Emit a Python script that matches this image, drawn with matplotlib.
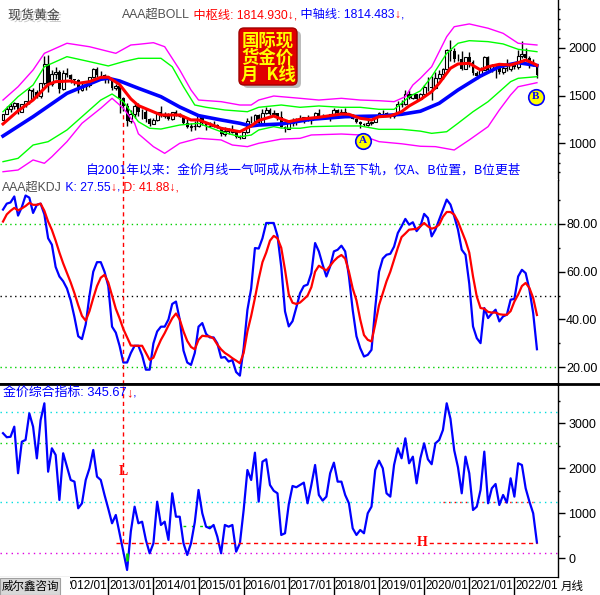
import matplotlib
matplotlib.use('Agg')
import matplotlib.pyplot as plt
import matplotlib.transforms as mtransforms
import matplotlib.patheffects as pe
from matplotlib.patches import FancyBboxPatch, Rectangle
from matplotlib.lines import Line2D
from matplotlib.ticker import MultipleLocator
import numpy as np

plt.rcParams['font.family'] = ['Liberation Sans', 'Noto Sans CJK SC']

# ---- monthly gold candles, 2010/09 .. 2022/07 ----
first_open = 1247
closes = [1307, 1357, 1386, 1421,
          1333, 1410, 1439, 1556, 1536, 1500, 1628, 1826, 1624, 1722, 1746, 1565,
          1740, 1711, 1669, 1664, 1561, 1604, 1614, 1692, 1773, 1719, 1711, 1675,
          1663, 1579, 1595, 1472, 1393, 1234, 1312, 1395, 1327, 1323, 1253, 1202,
          1240, 1326, 1284, 1296, 1250, 1327, 1282, 1287, 1210, 1171, 1182, 1184,
          1283, 1212, 1183, 1183, 1190, 1172, 1095, 1134, 1115, 1142, 1065, 1061,
          1118, 1238, 1233, 1293, 1215, 1322, 1351, 1309, 1316, 1277, 1173, 1146,
          1211, 1249, 1249, 1268, 1268, 1242, 1269, 1322, 1280, 1271, 1275, 1303,
          1345, 1318, 1325, 1316, 1299, 1253, 1224, 1202, 1192, 1215, 1222, 1282,
          1321, 1313, 1292, 1284, 1305, 1409, 1413, 1520, 1472, 1513, 1464, 1517,
          1589, 1585, 1577, 1687, 1730, 1781, 1975, 1967, 1886, 1879, 1776, 1898,
          1847, 1734, 1708, 1769, 1907, 1770, 1814, 1813, 1743, 1783, 1774, 1829,
          1796, 1909, 1937, 1897, 1838, 1807, 1710]
highs = [1310, 1388, 1424, 1431,
         1424, 1411, 1447, 1576, 1577, 1560, 1632, 1913, 1920, 1764, 1803, 1764,
         1764, 1791, 1720, 1677, 1668, 1641, 1630, 1695, 1787, 1796, 1755, 1723,
         1694, 1684, 1617, 1606, 1487, 1424, 1348, 1433, 1424, 1361, 1361, 1267,
         1270, 1332, 1392, 1331, 1315, 1332, 1345, 1322, 1292, 1256, 1208, 1238,
         1307, 1284, 1225, 1224, 1232, 1205, 1175, 1170, 1157, 1191, 1142, 1088,
         1124, 1263, 1287, 1304, 1303, 1362, 1375, 1367, 1352, 1317, 1337, 1180,
         1220, 1264, 1262, 1295, 1273, 1296, 1270, 1331, 1357, 1306, 1299, 1307,
         1366, 1361, 1356, 1365, 1316, 1308, 1266, 1237, 1214, 1243, 1237, 1284,
         1326, 1347, 1325, 1303, 1306, 1439, 1453, 1555, 1557, 1517, 1516, 1523,
         1611, 1689, 1704, 1747, 1765, 1789, 1984, 2075, 1992, 1933, 1965, 1906,
         1959, 1872, 1755, 1798, 1913, 1916, 1832, 1834, 1834, 1814, 1877, 1831,
         1853, 1974, 2070, 1998, 1910, 1879, 1814]
lows = [1242, 1305, 1330, 1360,
        1309, 1324, 1383, 1416, 1462, 1478, 1478, 1605, 1535, 1603, 1671, 1523,
        1562, 1689, 1627, 1614, 1527, 1547, 1555, 1587, 1688, 1692, 1672, 1635,
        1626, 1555, 1562, 1321, 1338, 1180, 1208, 1270, 1291, 1251, 1221, 1182,
        1202, 1239, 1277, 1268, 1240, 1240, 1281, 1273, 1206, 1160, 1131, 1142,
        1167, 1191, 1142, 1175, 1170, 1162, 1077, 1077, 1099, 1106, 1052, 1046,
        1060, 1107, 1208, 1208, 1200, 1199, 1310, 1301, 1302, 1241, 1171, 1123,
        1146, 1180, 1194, 1241, 1214, 1236, 1205, 1267, 1271, 1260, 1264, 1236,
        1302, 1307, 1303, 1302, 1282, 1251, 1211, 1160, 1180, 1183, 1196, 1221,
        1276, 1311, 1281, 1266, 1266, 1301, 1382, 1400, 1459, 1459, 1445, 1459,
        1517, 1548, 1451, 1567, 1670, 1671, 1757, 1863, 1849, 1860, 1764, 1776,
        1803, 1717, 1677, 1705, 1765, 1751, 1751, 1688, 1721, 1721, 1759, 1753,
        1780, 1781, 1890, 1872, 1787, 1805, 1681]

# ---- BOLL lines (month index, value) ----
red_m = [0, 4, 8, 12, 14, 18, 20, 23, 26, 28, 31, 34, 36, 42, 47, 50, 52, 58, 63, 66, 68, 72, 74, 76,
         79, 84, 90, 92, 95, 98, 100, 103, 106, 108, 111, 114, 116, 119, 121, 124, 127, 129, 132, 135,
         137, 139, 141, 142]
red_v = [1203, 1340, 1453, 1615, 1645, 1652, 1628, 1645, 1690, 1692, 1615, 1465, 1395, 1297, 1297, 1245,
         1245, 1158, 1122, 1182, 1240, 1286, 1255, 1227, 1252, 1273, 1307, 1304, 1262, 1245, 1279, 1286,
         1331, 1391, 1458, 1540, 1628, 1785, 1830, 1837, 1767, 1801, 1826, 1819, 1843, 1871, 1837, 1815]
blue_m = [0, 8, 17, 26, 28, 31, 36, 42, 47, 52, 58, 63, 66, 68, 74, 82, 91, 100, 106, 111, 116, 121,
          127, 132, 137, 142]
blue_v = [1077, 1279, 1523, 1670, 1680, 1652, 1576, 1488, 1380, 1290, 1245, 1210, 1182, 1192, 1203, 1252,
          1279, 1286, 1304, 1336, 1419, 1558, 1704, 1801, 1843, 1814]
mag_up_m = [0, 4, 8, 11, 17, 23, 30, 34, 36, 40, 43, 47, 50, 52, 58, 63, 66, 68, 72, 74, 79, 84, 90, 95,
            100, 104, 107, 109, 111, 114, 118, 120, 124, 129, 133, 137, 142]
mag_up_v = [1453, 1592, 1767, 1941, 2046, 2010, 1941, 2028, 2035, 2052, 2010, 1767, 1558, 1453, 1436, 1401,
            1401, 1453, 1495, 1488, 1471, 1453, 1471, 1453, 1446, 1436, 1488, 1610, 1680, 1801, 2115, 2219,
            2248, 2203, 2150, 2046, 2028]
grn_up_m = [0, 4, 8, 11, 17, 23, 28, 32, 36, 42, 45, 48, 51, 54, 59, 65, 68, 74, 79, 84, 90, 95, 100,
            104, 106, 108, 111, 114, 118, 121, 124, 129, 133, 137, 142]
grn_up_v = [1331, 1488, 1610, 1801, 1906, 1854, 1809, 1854, 1889, 1889, 1801, 1592, 1401, 1377, 1349, 1331,
            1377, 1401, 1377, 1391, 1377, 1377, 1356, 1356, 1419, 1488, 1549, 1697, 1941, 2046, 2073, 2063,
            2039, 1983, 1958]
grn_lo_m = [0, 4, 8, 12, 17, 21, 26, 29, 32, 35, 36, 39, 42, 47, 52, 58, 63, 66, 68, 72, 74, 79, 82, 90,
            95, 100, 106, 111, 114, 118, 121, 125, 129, 132, 135, 137, 142]
grn_lo_v = [809, 844, 983, 1018, 1140, 1279, 1453, 1516, 1436, 1279, 1227, 1158, 1150, 1192, 1210, 1122,
            1070, 1087, 1140, 1175, 1160, 1158, 1175, 1182, 1182, 1147, 1147, 1128, 1105, 1122, 1210, 1331,
            1436, 1540, 1645, 1680, 1697]
mag_lo_m = [0, 4, 8, 11, 13, 17, 21, 26, 29, 32, 35, 36, 40, 43, 47, 52, 58, 61, 65, 68, 74, 79, 82, 90,
            95, 100, 106, 111, 115, 120, 124, 129, 132, 135, 137, 142]
mag_lo_v = [704, 722, 827, 792, 861, 1018, 1210, 1367, 1471, 1367, 1210, 1100, 966, 896, 1001, 1053, 1036,
            983, 966, 1001, 1045, 1053, 1088, 1098, 1088, 1018, 996, 970, 966, 931, 1036, 1175, 1349, 1506,
            1592, 1634]

# ---- KDJ ----
k_vals = [86, 88.5, 89, 91.5, 83.5, 87, 91.9, 91, 84.6, 88,
          88.5, 84, 74, 71.3, 62, 58, 56, 53, 48, 41,
          33, 31.8, 38, 50, 60, 64, 64, 60, 54, 37,
          34.5, 29, 22, 22, 26, 29, 29, 25, 19, 19,
          30, 35, 37, 37, 40, 46.5, 47.5, 40, 27, 22,
          21, 26, 37, 38.5, 34, 32.5, 32.5, 30, 24, 24.3,
          22.4, 23, 18, 16.5, 28, 44, 53, 69.9, 69.7, 74,
          80.4, 80.4, 80.4, 75, 62, 43.4, 37.1, 39.3, 45, 51,
          54, 54.6, 59.4, 72, 68.5, 63, 58, 62.2, 68.5, 69.2,
          70.9, 68.5, 58, 44, 33, 28, 24.5, 25.2, 27.3, 45,
          60, 65.5, 67.1, 67.5, 70.5, 76.2, 79, 82.1, 79.7, 80.7,
          77, 79, 84.2, 82.5, 74.8, 77.6, 81.8, 86, 90.2, 88.1,
          83.2, 77.6, 69.2, 67.1, 55, 37.1, 32.2, 30.1, 44.8, 40.6,
          42.5, 44.1, 39.2, 41.3, 42, 48.3, 48.6, 58, 60.8, 59.4,
          52.5, 42.7, 27.55]
d_vals = [81, 84, 85.5, 86.7, 85.7, 86.5, 87.5, 88.8, 88, 88,
          88.5, 85.5, 81, 77.5, 73, 68, 63.5, 59.5, 55.5, 51,
          46, 41.5, 39.5, 43.5, 49, 54, 57.5, 58.7, 55.5, 50,
          44.5, 40.5, 36, 32.5, 29.1, 29, 29, 29, 26, 23.1,
          24, 28, 31.5, 34.3, 37.5, 40.5, 42.5, 40, 35, 31,
          28.5, 27.5, 31.5, 33.2, 33, 32.9, 32, 29.5, 27.5, 26,
          25, 23.8, 22.8, 21.7, 26, 35, 41.5, 49, 57, 64,
          68, 73, 75, 74, 70, 60.8, 50.5, 47, 46.5, 47.1,
          48.5, 50, 53.5, 60, 62.5, 61.5, 60.5, 62.5, 64.5, 66,
          67, 65.5, 60, 53, 48, 40, 33.5, 31.5, 30.8, 38,
          46, 51, 56, 60, 65, 70, 74.5, 76, 77.6, 77.8,
          77.9, 79, 80.4, 79, 78, 78.5, 79.7, 83, 85, 85,
          83.9, 81, 77, 73, 68, 58, 49.6, 44.8, 44.5, 43.2,
          42.9, 42.9, 42.2, 42, 42, 43.5, 47.5, 50.4, 54, 55.3,
          53.2, 49, 41.88]

# ---- 金价综合指标 ----
ind_vals = [2780, 2690, 2700, 2925, 1890, 2590, 2630, 3220, 2925, 2220,
            3070, 3444, 1924, 2444, 2296, 1296, 2333, 2036, 1740, 1703,
            1111, 1222, 1740, 2000, 2407, 1814, 1740, 1407, 1100, 778,
            962, 556, 150, -260, 600, 1147, 778, 813, 407, 111,
            333, 1258, 740, 813, 407, 1444, 924, 924, 333, 73,
            333, 800, 1518, 1000, 702, 666, 740, 480, 111, 740,
            702, 740, 147, 333, 1073, 1962, 1740, 2347, 1258, 2147,
            2200, 1629, 1500, 1444, 518, 556, 1200, 1607, 1578, 1629,
            1681, 1222, 1629, 2073, 1407, 1281, 1370, 1889, 2125, 1703,
            1703, 1407, 1222, 666, 518, 629, 556, 1000, 1147, 1962,
            2169, 2000, 1444, 1370, 2073, 2444, 2222, 2666, 2111, 2258,
            1666, 2222, 2555, 2200, 2090, 2555, 2629, 2851, 3444, 3100,
            2400, 2022, 1444, 2258, 1889, 1073, 1147, 1518, 2370, 1222,
            1555, 1651, 1184, 1407, 1236, 1777, 1370, 2111, 2073, 1555,
            1258, 1000, 345.67]
ind_levels = [3244, 2569, 1251, 118]
ind_level_colors = ['#00dede', '#00d000', '#00dede', '#e000e0']

year_ticks = [16, 28, 40, 52, 64, 76, 88, 100, 112, 124, 136]
year_labels = ['2012/01', '2013/01', '2014/01', '2015/01', '2016/01', '2017/01',
               '2018/01', '2019/01', '2020/01', '2021/01', '2022/01']

L_month = 32
A_pos = (95.8, 1028)
B_pos = (141.7, 1487)

# ---------------------------------------------------------------
W, H = 600, 595
fig = plt.figure(figsize=(6, 5.95), dpi=100)
pix = mtransforms.Affine2D().scale(1, -1).translate(0, H)


def box(y0, y1):
    return [0, 1 - y1 / H, 558 / W, (y1 - y0) / H]


ax1 = fig.add_axes(box(0, 179.5))
ax2 = fig.add_axes(box(179.5, 384))
ax3 = fig.add_axes(box(384, 577))

n = np.arange(len(closes))
c = np.array(closes, float)
o = np.array([first_open] + closes[:-1], float)
up = c >= o

for ax, pad in ((ax1, 2.5), (ax2, 0.8), (ax3, 2.5)):
    ax.set_xlim(-0.8, 147.6)
    ax.set_xticks([])
    ax.spines['left'].set_visible(False)
    ax.spines['top'].set_visible(False)
    ax.spines['right'].set_linewidth(1)
    ax.yaxis.tick_right()
    ax.tick_params(axis='y', which='major', direction='out', length=5, width=1,
                   pad=pad, labelsize=9, colors='#000000')
    ax.tick_params(axis='y', which='minor', direction='out', length=1.5, width=1)

ax1.set_ylim(622.8, 2498)
ax2.set_ylim(13.0, 98.6)
ax3.set_ylim(-416, 3873)
ax2.spines['bottom'].set_linewidth(2)
ax3.spines['top'].set_visible(True)
ax3.spines['top'].set_linewidth(2)

# --- top panel ---
ax1.vlines(n, lows, highs, color='k', lw=1, zorder=2)
ax1.bar(n[up], np.maximum((c - o)[up], 3), bottom=o[up], width=0.75,
        facecolor='white', edgecolor='k', lw=0.8, zorder=3)
ax1.bar(n[~up], np.maximum((o - c)[~up], 3), bottom=c[~up], width=0.75,
        color='k', lw=0, zorder=3)
ax1.plot(mag_up_m, mag_up_v, color='#ff00ff', lw=1, zorder=4)
ax1.plot(mag_lo_m, mag_lo_v, color='#ff00ff', lw=1, zorder=4)
ax1.plot(grn_up_m, grn_up_v, color='#00ff00', lw=1, zorder=4)
ax1.plot(grn_lo_m, grn_lo_v, color='#00ff00', lw=1, zorder=4)
ax1.plot(blue_m, blue_v, color='#0000ff', lw=2.6, zorder=5)
ax1.plot(red_m, red_v, color='#ff0000', lw=2.2, zorder=6)
ax1.set_yticks([1000, 1500, 2000])
ax1.yaxis.set_minor_locator(MultipleLocator(100))
ax1.vlines(L_month, 622.8, 1330, colors='red', linestyles=(0, (3, 2.5)), lw=1, zorder=7)

for lab, (xm, yv) in (('A', A_pos), ('B', B_pos)):
    ax1.scatter([xm], [yv], s=125, facecolor='#ffff00', edgecolor='#0000ff', lw=1.2, zorder=8)
    ax1.text(xm, yv, lab, color='#0000ff', fontsize=8, fontweight='bold',
             family='Liberation Serif', ha='center', va='center', zorder=9)

# --- KDJ panel ---
for lv, col in ((80, '#00d000'), (50, '#000000'), (20, '#00d000')):
    ax2.axhline(lv, color=col, ls=(0, (1, 2.5)), lw=1, zorder=1)
ax2.plot(n, k_vals, color='#0000ff', lw=1.6, zorder=3)
ax2.plot(n, d_vals, color='#ff0000', lw=1.6, zorder=4)
ax2.axvline(L_month, color='red', ls=(0, (3, 2.5)), lw=1, zorder=5)
ax2.set_yticks([20, 40, 60, 80])
ax2.set_yticklabels(['20.00', '40.00', '60.00', '80.00'])
ax2.yaxis.set_minor_locator(MultipleLocator(10))

# --- indicator panel ---
for lv, col in zip(ind_levels, ind_level_colors):
    ax3.axhline(lv, color=col, ls=(0, (1, 3)), lw=1, zorder=1)
ax3.hlines(ind_levels[2], 117, 141, colors='red', linestyles=(0, (1, 3)), lw=1, zorder=1)
ax3.hlines(725, 48, 56, colors='#00d000', linestyles=(0, (2, 4)), lw=1, zorder=2)
ax3.plot(n, ind_vals, color='#0000ff', lw=1.6, zorder=3)
ax3.vlines(33, -60, 120, colors='#00d000', lw=2, zorder=4)
H_level = ind_vals[-1]
ax3.hlines(H_level, 30, 142, colors='red', linestyles=(0, (3, 2.5)), lw=1, zorder=5)
ax3.vlines(L_month, H_level, 3873, colors='red', linestyles=(0, (3, 2.5)), lw=1, zorder=5)
ax3.text(L_month, 1918, 'L', color='red', fontsize=10, fontweight='bold',
         family='Liberation Serif', ha='center', va='center', zorder=6)
ax3.text(111.4, H_level, 'H', color='red', fontsize=10, fontweight='bold',
         family='Liberation Serif', ha='center', va='center', zorder=6,
         bbox=dict(facecolor='white', edgecolor='none', pad=0.5))
ax3.set_yticks([0, 1000, 2000, 3000])
ax3.yaxis.set_minor_locator(MultipleLocator(500))

# date strip
xt = ax3.get_xaxis_transform()
ax3.vlines(year_ticks, -18 / 193, 0, transform=xt, colors='k', lw=1, clip_on=False)
for t, lab in zip(year_ticks, year_labels):
    ax3.text(t + 0.25, -9 / 193, lab, transform=xt, ha='left', va='center',
             fontsize=8.5, color='k', clip_on=False)

fig.add_artist(Line2D([558, 600], [384, 384], transform=pix, color='k', lw=2))
fig.add_artist(Rectangle((0, 577), 70, 18, transform=pix, facecolor='white',
                         edgecolor='none', zorder=5))
fig.add_artist(Rectangle((0, 577.5), 60, 17, transform=pix, facecolor='#d8d8d8',
                         edgecolor='#a0a0a0', lw=0.8, zorder=6))
fig.text(30, 586.5, '威尔鑫咨询', transform=pix, ha='center', va='center',
         fontsize=8.3, color='k', zorder=7)
fig.text(561, 586.5, '月线', transform=pix, ha='left', va='center', fontsize=8.3, color='k')

# --- text headers ---
renderer = fig.canvas.get_renderer()


def rich(x, y, parts, size=8.8):
    for s, col in parts:
        t = fig.text(x, y, s, transform=pix, color=col, fontsize=size,
                     ha='left', va='center', zorder=10)
        x += t.get_window_extent(renderer).width


fig.text(8, 16, '现货黄金', transform=pix, fontsize=9.3, color='#404040', va='center', zorder=10,
         path_effects=[pe.withSimplePatchShadow(offset=(1.5, -1.5), shadow_rgbFace='#b8b8b8',
                                                alpha=0.8)])
rich(122, 15, [('AAA超BOLL', '#505050'), (' 中枢线: 1814.930↓,', '#ff0000'),
               (' 中轴线: 1814.483', '#0000ff'), ('↓', '#ff0000'), (',', '#0000ff')])
rich(2, 188, [('AAA超KDJ', '#505050'), (' K: 27.55', '#0000ff'), ('↓', '#ff0000'),
              (',', '#0000ff'), (' D: 41.88↓,', '#ff0000')])
rich(3, 393, [('金价综合指标: 345.67', '#0000ff'), ('↓', '#ff0000'), (',', '#0000ff')], size=9.3)

fig.text(86, 170, '自2001年以来：金价月线一气呵成从布林上轨至下轨，仅A、B位置，B位更甚',
         transform=pix, fontsize=9.2, color='#0000ff', va='center', ha='left',
         family=['Noto Sans CJK SC'], zorder=10)

# red label box
fig.add_artist(FancyBboxPatch((243, 31), 58, 57, boxstyle='round,pad=0,rounding_size=5',
                              transform=pix, facecolor='#909090', edgecolor='none',
                              alpha=0.6, zorder=8))
fig.add_artist(FancyBboxPatch((239, 28), 58, 57, boxstyle='round,pad=0,rounding_size=5',
                              transform=pix, facecolor='#e00000', edgecolor='#a00000',
                              lw=1, zorder=9))
for yy, s in ((41, '国际现'), (58, '货金价'), (75, '月  K线')):
    fig.text(268, yy, s, transform=pix, fontsize=12.5, fontweight='bold', color='#ffff00',
             ha='center', va='center', family=['Noto Sans CJK SC'], zorder=10)

fig.savefig('out.png', dpi=100)
